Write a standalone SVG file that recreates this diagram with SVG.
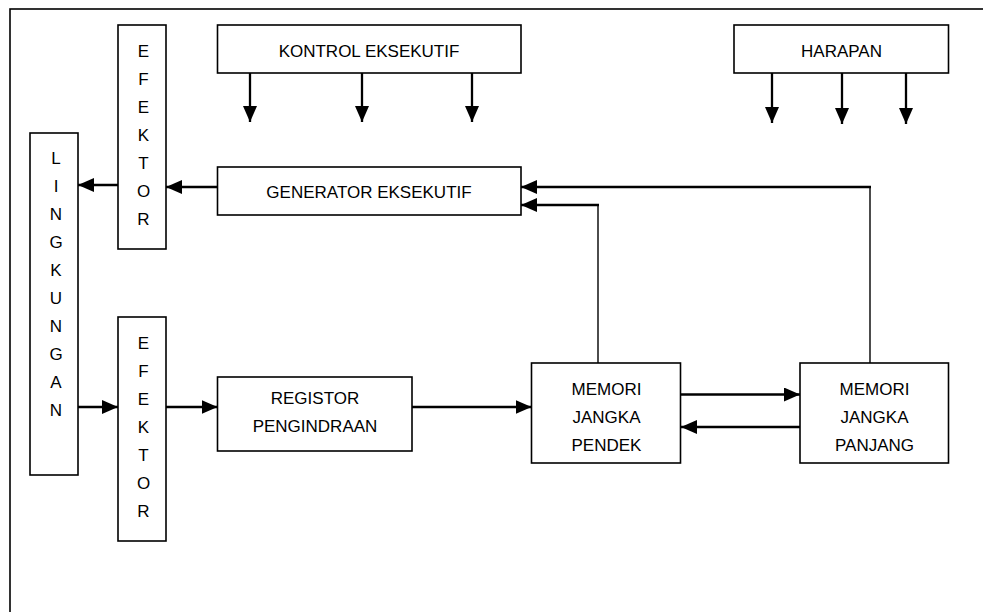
<svg xmlns="http://www.w3.org/2000/svg" width="983" height="612" viewBox="0 0 983 612">
<style>
.box{fill:#fff;stroke:#000;stroke-width:1.6}
.t{font-family:"Liberation Sans",Arial,sans-serif;font-size:17px;fill:#000;text-anchor:middle}
.c{fill:none;stroke:#000;stroke-width:2.3}
.thin{fill:none;stroke:#000;stroke-width:1.4}
</style>
<defs>
<marker id="ah" markerUnits="userSpaceOnUse" markerWidth="16" markerHeight="14" refX="16" refY="7" orient="auto">
<path d="M0,0 L16,7 L0,14 z" fill="#000"/>
</marker>
</defs>
<rect id="frame" x="10" y="9" width="1000" height="640" fill="#fff" stroke="#000" stroke-width="1.6"/>
<g id="connectors">
<path class="c" d="M217.5,187 H166" marker-end="url(#ah)"/>
<path class="c" d="M118,185 H78" marker-end="url(#ah)"/>
<path class="c" d="M78,407 H118" marker-end="url(#ah)"/>
<path class="c" d="M166,407 H217.5" marker-end="url(#ah)"/>
<path class="c" d="M412,407 H531.5" marker-end="url(#ah)"/>
<path class="c" d="M680.5,394.5 H800" marker-end="url(#ah)"/>
<path class="c" d="M800,427 H681" marker-end="url(#ah)"/>
<path class="thin" d="M598,363 V205"/>
<path class="c" d="M599,205 H521" marker-end="url(#ah)"/>
<path class="thin" d="M870,363 V187"/>
<path class="c" d="M871,187 H521" marker-end="url(#ah)"/>
<path class="c" d="M250,73 V122" marker-end="url(#ah)"/>
<path class="c" d="M362,73 V122" marker-end="url(#ah)"/>
<path class="c" d="M472,73 V122" marker-end="url(#ah)"/>
<path class="c" d="M772,73 V123" marker-end="url(#ah)"/>
<path class="c" d="M842,73 V124" marker-end="url(#ah)"/>
<path class="c" d="M906,73 V124" marker-end="url(#ah)"/>
</g>
<g id="kontrol">
<rect class="box" x="217.5" y="25" width="303.5" height="48"/>
<text class="t" x="369" y="56.5">KONTROL EKSEKUTIF</text>
</g>
<g id="generator">
<rect class="box" x="217.5" y="167" width="303.5" height="48"/>
<text class="t" x="369" y="198">GENERATOR EKSEKUTIF</text>
</g>
<g id="harapan">
<rect class="box" x="734" y="25" width="214.5" height="48"/>
<text class="t" x="841.5" y="56.5">HARAPAN</text>
</g>
<g id="efektor1">
<rect class="box" x="118" y="25" width="48" height="224"/>
<text class="t" x="143.5" y="56.5">E</text>
<text class="t" x="143.5" y="84.5">F</text>
<text class="t" x="143.5" y="112.5">E</text>
<text class="t" x="143.5" y="140.5">K</text>
<text class="t" x="143.5" y="168.5">T</text>
<text class="t" x="143.5" y="196.5">O</text>
<text class="t" x="143.5" y="224.5">R</text>
</g>
<g id="lingkungan">
<rect class="box" x="30" y="133" width="48" height="342"/>
<text class="t" x="56" y="163.5">L</text>
<text class="t" x="56" y="191.5">I</text>
<text class="t" x="56" y="219.5">N</text>
<text class="t" x="56" y="247.5">G</text>
<text class="t" x="56" y="275.5">K</text>
<text class="t" x="56" y="303.5">U</text>
<text class="t" x="56" y="331.5">N</text>
<text class="t" x="56" y="359.5">G</text>
<text class="t" x="56" y="387.5">A</text>
<text class="t" x="56" y="415.5">N</text>
</g>
<g id="efektor2">
<rect class="box" x="118" y="317" width="48" height="224"/>
<text class="t" x="143.5" y="348.5">E</text>
<text class="t" x="143.5" y="376.5">F</text>
<text class="t" x="143.5" y="404.5">E</text>
<text class="t" x="143.5" y="432.5">K</text>
<text class="t" x="143.5" y="460.5">T</text>
<text class="t" x="143.5" y="488.5">O</text>
<text class="t" x="143.5" y="516.5">R</text>
</g>
<g id="registor">
<rect class="box" x="217.5" y="377" width="194.5" height="74"/>
<text class="t" x="315" y="404">REGISTOR</text>
<text class="t" x="315" y="432">PENGINDRAAN</text>
</g>
<g id="memori-pendek">
<rect class="box" x="531.5" y="363" width="149" height="100"/>
<text class="t" x="606.5" y="394.5">MEMORI</text>
<text class="t" x="606.5" y="422.5">JANGKA</text>
<text class="t" x="606.5" y="450.5">PENDEK</text>
</g>
<g id="memori-panjang">
<rect class="box" x="800" y="363" width="148.5" height="100"/>
<text class="t" x="874.5" y="394.5">MEMORI</text>
<text class="t" x="874.5" y="422.5">JANGKA</text>
<text class="t" x="874.5" y="450.5">PANJANG</text>
</g>
</svg>
